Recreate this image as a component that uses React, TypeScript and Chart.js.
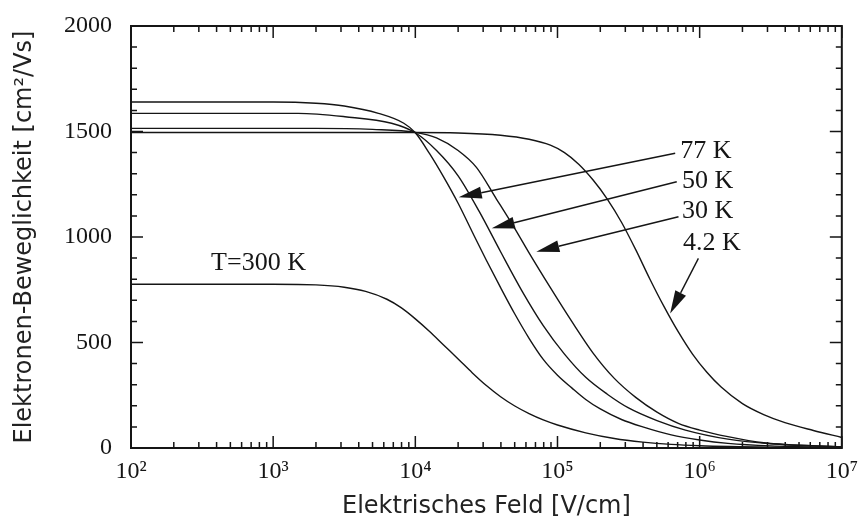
import React, { useEffect, useRef } from "react";
import { Chart, registerables } from "chart.js";

Chart.register(...registerables);

// Electron mobility vs. electric field, one series per temperature
const field300K = [1e2, 1e3, 2.0e3, 3.16e3, 4.47e3, 6.31e3, 7.94e3, 1e4, 1.26e4, 1.58e4, 2.0e4, 2.51e4, 3.16e4, 3.98e4, 5.01e4, 6.31e4, 7.94e4, 1e5, 1.58e5, 2.51e5, 3.98e5, 6.31e5, 1e6, 3.16e6, 1e7];
const mobility300K = [776, 776, 773, 762, 742, 705, 665, 612, 552, 488, 422, 357, 296, 243, 199, 163, 133, 109, 72, 45, 28, 17, 11, 4, 1];

const field77K = [1e2, 1e3, 2.0e3, 3.16e3, 5.5e3, 8.3e3, 1e4, 1.26e4, 1.58e4, 2.0e4, 2.51e4, 3.16e4, 3.98e4, 5.01e4, 6.31e4, 7.94e4, 1e5, 1.26e5, 1.58e5, 2.0e5, 2.82e5, 3.98e5, 6.31e5, 1e6, 1.58e6, 3.16e6, 1e7];
const mobility77K = [1640, 1640, 1634, 1621, 1586, 1539, 1494, 1395, 1285, 1160, 1025, 890, 760, 635, 520, 420, 345, 285, 230, 185, 135, 100, 62, 38, 22, 10, 3];

const field50K = [1e2, 1.5e3, 3.2e3, 6.8e3, 1e4, 1.41e4, 2.0e4, 2.82e4, 3.98e4, 5.62e4, 7.94e4, 1.12e5, 1.58e5, 2.24e5, 3.16e5, 5.01e5, 7.94e5, 1.58e6, 3.16e6, 1e7];
const mobility50K = [1586, 1586, 1570, 1539, 1494, 1410, 1290, 1120, 930, 745, 580, 445, 335, 255, 190, 130, 85, 42, 20, 5];

const field30K = [1e2, 2e3, 5e3, 1e4, 1.41e4, 2.0e4, 2.69e4, 3.72e4, 5.01e4, 6.31e4, 8.91e4, 1.26e5, 1.78e5, 2.51e5, 3.55e5, 5.01e5, 7.08e5, 1e6, 1.58e6, 2.82e6, 1e7];
const mobility30K = [1515, 1515, 1510, 1496, 1470, 1410, 1330, 1180, 1040, 925, 760, 600, 450, 330, 240, 170, 117, 85, 54, 25, 5];

const field4K = [1e2, 1e4, 2.0e4, 3.98e4, 6.31e4, 8.91e4, 1.12e5, 1.41e5, 1.78e5, 2.24e5, 2.82e5, 3.55e5, 4.47e5, 5.62e5, 7.08e5, 8.91e5, 1.12e6, 1.41e6, 2.0e6, 2.82e6, 3.98e6, 6.31e6, 1e7];
const mobility4K = [1495, 1495, 1493, 1482, 1463, 1435, 1400, 1345, 1270, 1180, 1070, 940, 800, 670, 550, 445, 360, 290, 210, 158, 120, 83, 50];

// Axis ticks
const xMajorTicks = [1e2, 1e3, 1e4, 1e5, 1e6, 1e7];
const xMinorMultipliers = [2, 3, 4, 5, 6, 7, 8, 9];
const yMajorTicks = [0, 500, 1000, 1500, 2000];
const yMinorStep = 100;

// Labels and arrows, placed in data coordinates
const labelTexts = ["77 K", "50 K", "30 K", "4.2 K", "T=300 K"];
const labelFields = [7.3e5, 7.5e5, 7.5e5, 7.65e5, 366];
const labelMobilities = [1373, 1231, 1089, 938, 844];

const arrowTailFields = [6.73e5, 6.9e5, 7.1e5, 9.8e5];
const arrowTailMobilities = [1397, 1262, 1096, 899];
const arrowTipFields = [2.02e4, 3.45e4, 7.1e4, 6.2e5];
const arrowTipMobilities = [1188, 1041, 930, 638];

const INK = "#151515";
const SUPERSCRIPTS: Record<string, string> = { "0": "⁰", "1": "¹", "2": "²", "3": "³", "4": "⁴", "5": "⁵", "6": "⁶", "7": "⁷", "8": "⁸", "9": "⁹" };

const toPoints = (xs: number[], ys: number[]) => xs.map((x, i) => ({ x, y: ys[i] }));

const series = [
  { label: "300 K", data: toPoints(field300K, mobility300K) },
  { label: "77 K", data: toPoints(field77K, mobility77K) },
  { label: "50 K", data: toPoints(field50K, mobility50K) },
  { label: "30 K", data: toPoints(field30K, mobility30K) },
  { label: "4.2 K", data: toPoints(field4K, mobility4K) },
];

const frameAndTicks = {
  id: "frameAndTicks",
  afterDatasetsDraw(chart: any) {
    const { ctx, chartArea, scales } = chart;
    const { left, right, top, bottom } = chartArea;
    const x = scales.x;
    const y = scales.y;
    ctx.save();
    ctx.strokeStyle = INK;
    ctx.lineWidth = 1.5;
    ctx.beginPath();
    const vTick = (px: number, len: number) => {
      ctx.moveTo(px, bottom);
      ctx.lineTo(px, bottom - len);
      ctx.moveTo(px, top);
      ctx.lineTo(px, top + len);
    };
    const hTick = (py: number, len: number) => {
      ctx.moveTo(left, py);
      ctx.lineTo(left + len, py);
      ctx.moveTo(right, py);
      ctx.lineTo(right - len, py);
    };
    xMajorTicks.forEach((v, i) => {
      vTick(x.getPixelForValue(v), 12);
      if (i < xMajorTicks.length - 1) {
        xMinorMultipliers.forEach((m) => vTick(x.getPixelForValue(v * m), 6));
      }
    });
    for (let v = 0; v <= 2000; v += yMinorStep) {
      hTick(y.getPixelForValue(v), yMajorTicks.includes(v) ? 12 : 6);
    }
    ctx.stroke();
    ctx.lineWidth = 2;
    ctx.strokeRect(left, top, right - left, bottom - top);
    ctx.restore();
  },
};

const annotations = {
  id: "annotations",
  afterDatasetsDraw(chart: any) {
    const { ctx, scales } = chart;
    const x = scales.x;
    const y = scales.y;
    ctx.save();
    ctx.fillStyle = INK;
    ctx.strokeStyle = INK;
    ctx.font = '26px "Liberation Serif", "Times New Roman", serif';
    ctx.textBaseline = "alphabetic";
    ctx.textAlign = "left";
    labelTexts.forEach((t, i) => {
      ctx.fillText(t, x.getPixelForValue(labelFields[i]), y.getPixelForValue(labelMobilities[i]));
    });
    arrowTailFields.forEach((_, i) => {
      const x0 = x.getPixelForValue(arrowTailFields[i]);
      const y0 = y.getPixelForValue(arrowTailMobilities[i]);
      const x1 = x.getPixelForValue(arrowTipFields[i]);
      const y1 = y.getPixelForValue(arrowTipMobilities[i]);
      const ang = Math.atan2(y1 - y0, x1 - x0);
      const headLen = 23;
      const headHalf = 6;
      const bx = x1 - headLen * Math.cos(ang);
      const by = y1 - headLen * Math.sin(ang);
      ctx.lineWidth = 1.4;
      ctx.beginPath();
      ctx.moveTo(x0, y0);
      ctx.lineTo(bx, by);
      ctx.stroke();
      ctx.beginPath();
      ctx.moveTo(x1, y1);
      ctx.lineTo(bx + headHalf * Math.sin(ang), by - headHalf * Math.cos(ang));
      ctx.lineTo(bx - headHalf * Math.sin(ang), by + headHalf * Math.cos(ang));
      ctx.closePath();
      ctx.fill();
    });
    ctx.restore();
  },
};

export default function App() {
  const canvasRef = useRef<HTMLCanvasElement | null>(null);

  useEffect(() => {
    if (!canvasRef.current) return;
    const chart = new Chart(canvasRef.current, {
      type: "line",
      data: {
        datasets: series.map((s) => ({
          label: s.label,
          data: s.data,
          borderColor: INK,
          borderWidth: 1.4,
          pointRadius: 0,
          fill: false,
          cubicInterpolationMode: "monotone" as const,
        })),
      },
      options: {
        responsive: false,
        animation: false,
        layout: { padding: { left: 0, top: 26, right: 19, bottom: 0 } },
        plugins: {
          legend: { display: false },
          tooltip: { enabled: false },
        },
        scales: {
          x: {
            type: "logarithmic",
            min: 1e2,
            max: 1e7,
            grid: { display: false, drawTicks: false },
            border: { display: false },
            afterBuildTicks: (scale: any) => {
              scale.ticks = xMajorTicks.map((value) => ({ value, major: true }));
            },
            afterFit: (scale: any) => {
              scale.height = 76;
            },
            ticks: {
              autoSkip: false,
              maxRotation: 0,
              padding: 9,
              color: INK,
              font: { family: '"Liberation Serif", "Times New Roman", serif', size: 24 },
              callback: (value: any) => {
                const exp = String(Math.round(Math.log10(Number(value))));
                return "10" + exp.split("").map((d) => SUPERSCRIPTS[d]).join("");
              },
            },
            title: {
              display: true,
              text: "Elektrisches Feld [V/cm]",
              color: "#222",
              font: { family: '"DejaVu Sans", sans-serif', size: 24 },
              padding: { top: 0, bottom: 3 },
            },
          },
          y: {
            type: "linear",
            min: 0,
            max: 2000,
            grid: { display: false, drawTicks: false },
            border: { display: false },
            afterBuildTicks: (scale: any) => {
              scale.ticks = yMajorTicks.map((value) => ({ value }));
            },
            afterFit: (scale: any) => {
              scale.width = 131;
              scale.paddingTop = 12;
              scale.paddingBottom = 12;
            },
            ticks: {
              padding: 19,
              color: INK,
              font: { family: '"Liberation Serif", "Times New Roman", serif', size: 24 },
              callback: (value: any) => String(value),
            },
            title: {
              display: true,
              text: "Elektronen-Beweglichkeit [cm²/Vs]",
              color: "#222",
              font: { family: '"DejaVu Sans", sans-serif', size: 24 },
              padding: { top: 10, bottom: 0 },
            },
          },
        },
      },
      plugins: [frameAndTicks, annotations],
    });
    return () => chart.destroy();
  }, []);

  return (
    <div style={{ position: "absolute", left: 0, top: 0, width: 867, height: 524, background: "#fff" }}>
      <canvas ref={canvasRef} width={867} height={524} style={{ display: "block" }} />
    </div>
  );
}
